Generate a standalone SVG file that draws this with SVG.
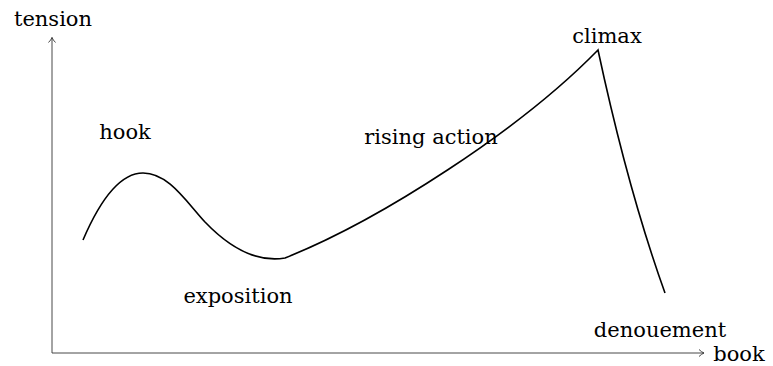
<svg xmlns="http://www.w3.org/2000/svg" width="773" height="366" viewBox="0 0 773 366">
<style>
text{font-family:'DejaVu Serif',serif;font-size:21px;fill:#000;text-anchor:middle}
.axis{stroke:#333;stroke-width:0.9;fill:none}
.curve{stroke:#000;stroke-width:1.6;fill:none;stroke-linejoin:miter}
</style>
<defs>
<marker id="arr" markerWidth="10" markerHeight="10" refX="7" refY="5" orient="auto" markerUnits="userSpaceOnUse">
<path d="M2,1.5 Q4.5,4 7,5 Q4.5,6 2,8.5" fill="none" stroke="#333" stroke-width="0.9"/>
</marker>
</defs>
<g id="connectors">
<line class="axis" x1="52" y1="353" x2="52" y2="37.5" marker-end="url(#arr)"/>
<line class="axis" x1="52" y1="353" x2="704" y2="353" marker-end="url(#arr)"/>
<path id="story-curve" class="curve" d="M83,240 C98,205 118,173 143,173 C168,173 185,200 205,222 C228,246 255,263 285,258 C380,220 520,130 598,50 Q628,190 665,293"/>
</g>
<g id="axis-y-label"><text x="53" y="26">tension</text></g>
<g id="axis-x-label"><text x="739" y="361">book</text></g>
<g id="hook"><text x="125" y="139">hook</text></g>
<g id="exposition"><text x="238" y="303">exposition</text></g>
<g id="rising-action"><text x="431" y="144">rising action</text></g>
<g id="climax"><text x="607" y="43">climax</text></g>
<g id="denouement"><text x="660" y="337">denouement</text></g>
</svg>
